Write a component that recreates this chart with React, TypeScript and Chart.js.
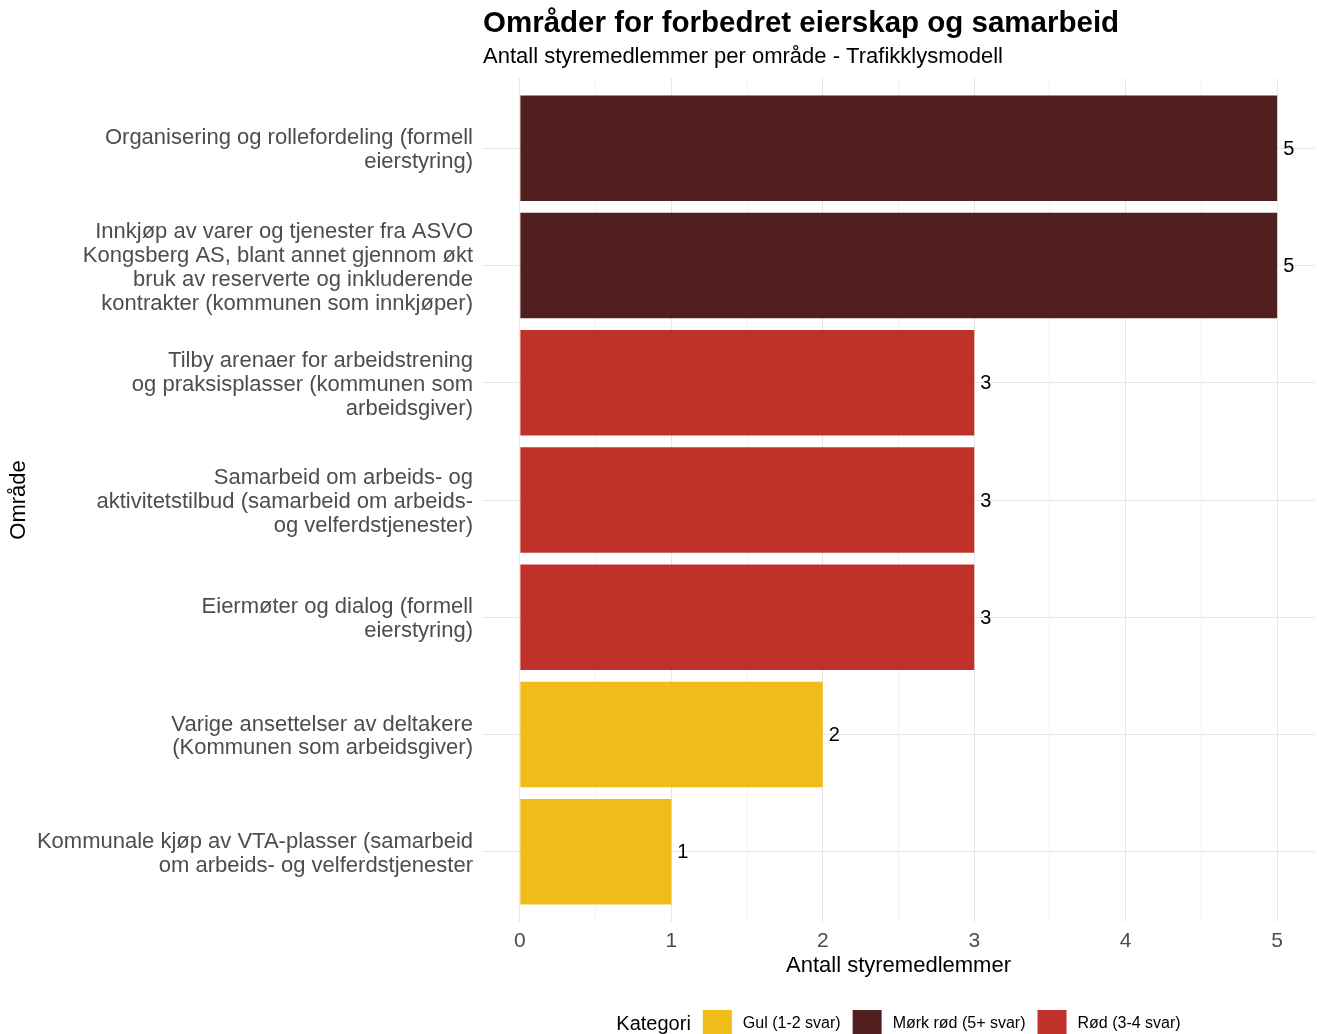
import { useEffect, useRef } from 'react';
import { Chart, registerables } from 'chart.js';

Chart.register(...registerables);

const FONT = '"Liberation Sans", Arial, sans-serif';

const titleText = 'Områder for forbedret eierskap og samarbeid';
const subtitleText = 'Antall styremedlemmer per område - Trafikklysmodell';
const xAxisTitle = 'Antall styremedlemmer';
const yAxisTitle = 'Område';
const legendTitle = 'Kategori';

const categories: string[][] = [
  ['Organisering og rollefordeling (formell', 'eierstyring)'],
  ['Innkjøp av varer og tjenester fra ASVO', 'Kongsberg AS, blant annet gjennom økt', 'bruk av reserverte og inkluderende', 'kontrakter (kommunen som innkjøper)'],
  ['Tilby arenaer for arbeidstrening', 'og praksisplasser (kommunen som', 'arbeidsgiver)'],
  ['Samarbeid om arbeids- og', 'aktivitetstilbud (samarbeid om arbeids-', 'og velferdstjenester)'],
  ['Eiermøter og dialog (formell', 'eierstyring)'],
  ['Varige ansettelser av deltakere', '(Kommunen som arbeidsgiver)'],
  ['Kommunale kjøp av VTA-plasser (samarbeid', 'om arbeids- og velferdstjenester'],
];

const values = [5, 5, 3, 3, 3, 2, 1];
const groupOfBar = [1, 1, 2, 2, 2, 0, 0];

const legendLabels = ['Gul (1-2 svar)', 'Mørk rød (5+ svar)', 'Rød (3-4 svar)'];
const legendColors = ['rgba(238,181,1,0.9)', 'rgba(61,7,6,0.9)', 'rgba(185,28,18,0.9)'];

const xTickValues = [0, 0.5, 1, 1.5, 2, 2.5, 3, 3.5, 4, 4.5, 5];

const overlayPlugin = {
  id: 'overlay',
  afterDatasetsDraw(chart: any) {
    const ctx = chart.ctx;
    const meta = chart.getDatasetMeta(0);
    ctx.save();
    ctx.fillStyle = '#000';
    ctx.font = `20px ${FONT}`;
    ctx.textBaseline = 'middle';
    ctx.textAlign = 'left';
    meta.data.forEach((el: any, i: number) => {
      ctx.fillText(String(values[i]), el.x + 6, el.y + 1);
    });
    ctx.restore();
  },
  afterDraw(chart: any) {
    const ctx = chart.ctx;
    const area = chart.chartArea;
    ctx.save();
    ctx.fillStyle = '#000';
    ctx.textAlign = 'left';
    ctx.textBaseline = 'alphabetic';
    ctx.font = `bold 29.5px ${FONT}`;
    ctx.fillText(titleText, area.left + 1, 32);
    ctx.font = `22px ${FONT}`;
    ctx.fillText(subtitleText, area.left + 1, 63);

    // x axis title
    const cx = (area.left + area.right) / 2;
    ctx.textAlign = 'center';
    ctx.textBaseline = 'middle';
    ctx.font = `22px ${FONT}`;
    ctx.fillText(xAxisTitle, cx, 966);

    // y axis title
    ctx.save();
    ctx.translate(19, (area.top + area.bottom) / 2);
    ctx.rotate(-Math.PI / 2);
    ctx.fillText(yAxisTitle, 0, 0);
    ctx.restore();

    // legend
    ctx.font = `20px ${FONT}`;
    const tW = ctx.measureText(legendTitle).width;
    ctx.font = `16px ${FONT}`;
    const lW = legendLabels.map((l) => ctx.measureText(l).width);
    const box = 29;
    const total = tW + 12 + lW.reduce((a, w) => a + box + 11 + w, 0) + 12 * (lW.length - 1);
    let x = cx - total / 2;
    const ly = 1024;
    ctx.textAlign = 'left';
    ctx.font = `20px ${FONT}`;
    ctx.fillText(legendTitle, x, ly);
    x += tW + 12;
    ctx.font = `16px ${FONT}`;
    legendLabels.forEach((l, i) => {
      ctx.fillStyle = legendColors[i];
      ctx.fillRect(x, ly - 14, box, box);
      x += box + 11;
      ctx.fillStyle = '#000';
      ctx.fillText(l, x, ly);
      x += lW[i] + 12;
    });
    ctx.restore();
  },
};

export default function App() {
  const ref = useRef<HTMLCanvasElement>(null);
  useEffect(() => {
    document.body.style.margin = '0';
    const canvas = ref.current!;
    const chart = new Chart(canvas, {
      type: 'bar',
      data: {
        datasets: [
          {
            data: values.map((v, i) => ({ x: v, y: i })),
            backgroundColor: values.map((_, i) => legendColors[groupOfBar[i]]),
            borderWidth: 0,
            barPercentage: 0.9,
            categoryPercentage: 1,
          },
        ],
      },
      options: {
        indexAxis: 'y',
        responsive: false,
        animation: false,
        devicePixelRatio: 1,
        layout: { padding: { top: 78, right: 2, left: 0, bottom: 0 } },
        plugins: { legend: { display: false }, tooltip: { enabled: false } },
        scales: {
          x: {
            type: 'linear',
            position: 'bottom',
            min: -0.25,
            max: 5.25,
            afterBuildTicks: (s: any) => {
              s.ticks = xTickValues.map((v) => ({ value: v }));
            },
            afterFit: (s: any) => {
              s.height = 112;
            },
            ticks: {
              autoSkip: false,
              maxRotation: 0,
              padding: 7,
              color: '#4D4D4D',
              font: { family: FONT, size: 21 },
              callback: (v: any) => (Number.isInteger(v) ? String(v) : ''),
            },
            grid: {
              drawTicks: false,
              color: (c: any) => (c.tick && Number.isInteger(c.tick.value) ? '#E6E6E6' : '#F2F2F2'),
              lineWidth: 1,
            },
            border: { display: false },
          },
          y: {
            type: 'linear',
            position: 'left',
            reverse: true,
            offset: false,
            min: -0.6,
            max: 6.6,
            afterBuildTicks: (s: any) => {
              s.ticks = categories.map((_, i) => ({ value: i }));
            },
            afterFit: (s: any) => {
              s.width = 482;
            },
            ticks: {
              autoSkip: false,
              padding: 9,
              labelOffset: 2,
              color: '#4D4D4D',
              font: { family: FONT, size: 22, lineHeight: 1.09 },
              callback: (v: any) => categories[v] ?? '',
            },
            grid: { drawTicks: false, offset: false, color: '#E6E6E6', lineWidth: 1 },
            border: { display: false },
          },
        },
      } as any,
      plugins: [overlayPlugin],
    });
    return () => chart.destroy();
  }, []);
  return <canvas ref={ref} width={1317} height={1034} style={{ display: 'block' }} />;
}
